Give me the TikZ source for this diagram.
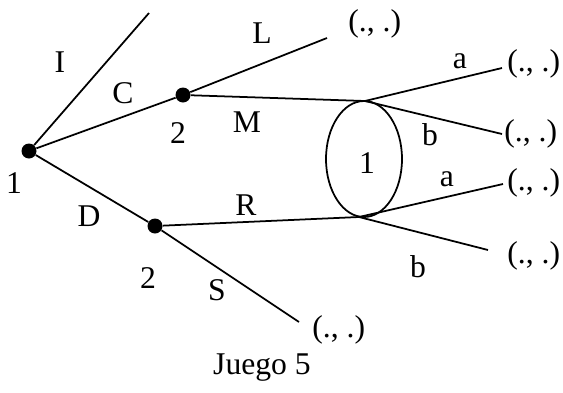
\documentclass[tikz,border=0pt]{standalone}
\usepackage{fontspec}
\setmainfont{Liberation Serif}
\usetikzlibrary{positioning,calc}

\tikzset{
  dot/.style={circle, fill=black, inner sep=0pt, minimum size=0.3cm},
  lbl/.style={font=\fontsize{18}{20}\selectfont, inner sep=0pt},
  pay/.style={font=\fontsize{18}{20}\selectfont, inner sep=0pt, anchor=west},
  branch/.style={line width=1pt}
}

\begin{document}
\begin{tikzpicture}
    \useasboundingbox (0,0) rectangle (11.26,7.84);

    % Decision nodes
    \node[dot] (r) at (0.58, 4.82) {};
    \node[dot] (pu) at (3.66, 5.94) {};
    \node[dot] (pd) at (3.10, 3.32) {};

    % Information set of player 1
    \draw[branch] (7.28, 4.66) ellipse (0.76 and 1.16);
    \coordinate (hu) at (7.30, 5.82);
    \coordinate (hd) at (7.18, 3.50);

    % Branch ends
    \coordinate (eI) at (2.98, 7.58);
    \coordinate (eL) at (6.54, 7.08);
    \coordinate (eS) at (5.98, 1.40);
    \coordinate (eua) at (10.04, 6.48);
    \coordinate (eub) at (10.04, 5.16);
    \coordinate (ela) at (10.06, 4.16);
    \coordinate (elb) at (9.76, 2.84);

    % Branches
    \draw[branch] (r) -- (eI);
    \draw[branch] (r) -- (pu);
    \draw[branch] (r) -- (pd);
    \draw[branch] (pu) -- (eL);
    \draw[branch] (pu) -- (hu);
    \draw[branch] (pd) -- (hd);
    \draw[branch] (pd) -- (eS);
    \draw[branch] (hu) -- (eua);
    \draw[branch] (hu) -- (eub);
    \draw[branch] (hd) -- (ela);
    \draw[branch] (hd) -- (elb);

    % Payoffs
    \node[pay] (pL) at (6.96, 7.36) {(., .)};
    \node[pay] (pua) at (10.14, 6.56) {(., .)};
    \node[pay] (pub) at (10.08, 5.16) {(., .)};
    \node[pay] (pla) at (10.14, 4.18) {(., .)};
    \node[pay] (plb) at (10.14, 2.72) {(., .)};
    \node[pay] (pS) at (6.24, 1.24) {(., .)};

    % Players
    \node[lbl] (n1) at (0.28, 4.18) {1};
    \node[lbl] (n2u) at (3.56, 5.18) {2};
    \node[lbl] (n2d) at (2.96, 2.28) {2};
    \node[lbl] (n1h) at (7.34, 4.58) {1};

    % Actions
    \node[lbl] (aI) at (1.20, 6.60) {I};
    \node[lbl] (aC) at (2.46, 5.98) {C};
    \node[lbl] (aD) at (1.78, 3.52) {D};
    \node[lbl] (aL) at (5.24, 7.18) {L};
    \node[lbl] (aM) at (4.94, 5.40) {M};
    \node[lbl] (aR) at (4.92, 3.74) {R};
    \node[lbl] (aS) at (4.34, 2.04) {S};
    \node[lbl] (aua) at (9.20, 6.62) {a};
    \node[lbl] (aub) at (8.60, 5.14) {b};
    \node[lbl] (ala) at (8.94, 4.26) {a};
    \node[lbl] (alb) at (8.36, 2.50) {b};

    % Title
    \node[lbl] (title) at (5.24, 0.48) {Juego 5};
\end{tikzpicture}
\end{document}
